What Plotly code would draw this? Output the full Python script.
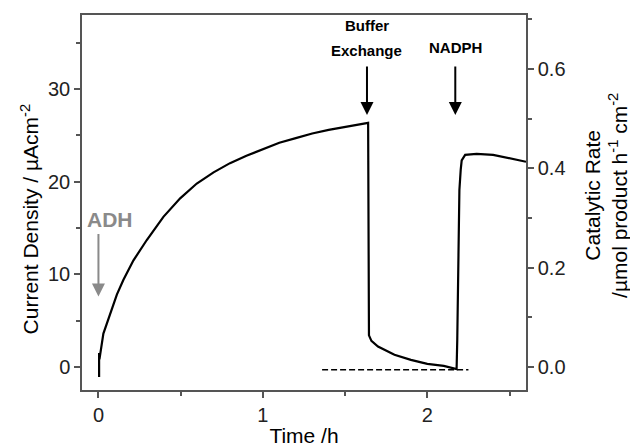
import plotly.graph_objects as go

# Current density trace (time in h, current in µA cm^-2)
time_h = [0.004, 0.004, 0.006, 0.03, 0.071, 0.112, 0.152, 0.213, 0.294, 0.395, 0.497, 0.598,
          0.7, 0.8, 0.9, 1.0, 1.1, 1.2, 1.3, 1.4, 1.5, 1.6, 1.64,
          1.645, 1.66, 1.7, 1.8, 1.9, 2.0, 2.1, 2.17, 2.178,
          2.182, 2.188, 2.195, 2.203, 2.209, 2.23, 2.3, 2.4, 2.5, 2.6]
current = [-1.1, 1.5, 0.8, 3.6, 5.8, 7.8, 9.4, 11.5, 13.7, 16.2, 18.2, 19.8,
           21.0, 22.0, 22.8, 23.5, 24.2, 24.7, 25.2, 25.6, 25.9, 26.2, 26.35,
           3.4, 2.8, 2.2, 1.3, 0.75, 0.32, 0.1, -0.15, -0.25,
           2.9, 13.7, 19.1, 21.3, 22.3, 22.9, 23.0, 22.9, 22.5, 22.15]

# Dashed zero baseline
base_t = [1.36, 2.25]
base_y = [-0.3, -0.3]

# Event arrows: x (h), arrow top, arrow tip (left-axis units)
event_t = [1.633, 2.17]
event_top = [32.6, 32.6]
event_tip = [27.2, 27.2]
adh_t, adh_top, adh_tip = 0.0, 14.5, 7.6

fig = go.Figure()
fig.add_trace(go.Scatter(x=time_h, y=current, mode="lines",
                         line=dict(color="black", width=2.2), showlegend=False))
fig.add_trace(go.Scatter(x=base_t, y=base_y, mode="lines",
                         line=dict(color="black", width=1.5, dash="6px,3px"), showlegend=False))
fig.add_trace(go.Scatter(x=[None], y=[None], yaxis="y2", mode="lines", showlegend=False))

font = "Liberation Sans, Arial, sans-serif"
axcol = "#555555"
gray = "#8a8a8a"

anns = []
for t, top, tip in zip(event_t, event_top, event_tip):
    anns.append(dict(x=t, y=tip, ax=t, ay=top, xref="x", yref="y",
                     axref="x", ayref="y", showarrow=True, arrowhead=2, arrowsize=1.3,
                     arrowwidth=2, arrowcolor="black", text=""))
anns.append(dict(x=event_t[0], y=event_top[0], xref="x", yref="y", text="<b>Exchange</b>",
                 showarrow=False, yanchor="bottom", font=dict(size=15, color="black", family=font),
                 yshift=4))
anns.append(dict(x=event_t[0], y=event_top[0], xref="x", yref="y", text="<b>Buffer</b>",
                 showarrow=False, yanchor="bottom", font=dict(size=15, color="black", family=font),
                 yshift=29))
anns.append(dict(x=event_t[1], y=event_top[1], xref="x", yref="y", text="<b>NADPH</b>",
                 showarrow=False, yanchor="bottom", font=dict(size=15, color="black", family=font),
                 yshift=7))
anns.append(dict(x=adh_t, y=adh_tip, ax=adh_t, ay=adh_top, xref="x", yref="y",
                 axref="x", ayref="y", showarrow=True, arrowhead=2, arrowsize=1.3,
                 arrowwidth=2, arrowcolor=gray, text=""))
anns.append(dict(x=0.07, y=adh_top, xref="x", yref="y", text="<b>ADH</b>", showarrow=False,
                 yanchor="bottom", font=dict(size=21, color=gray, family=font)))
# axis titles
anns.append(dict(x=-0.117, y=0.455, xref="paper", yref="paper", showarrow=False, textangle=-90,
                 xanchor="center", yanchor="middle",
                 text="Current Density / µAcm<sup>-2</sup>", font=dict(size=21, color="black", family=font)))
anns.append(dict(x=1.18, y=0.52, xref="paper", yref="paper", showarrow=False, textangle=-90,
                 xanchor="center", yanchor="middle",
                 text="Catalytic Rate<br>/µmol product h<sup>-1</sup> cm<sup>-2</sup>",
                 font=dict(size=21, color="black", family=font)))

# page body has an 8px margin, so the figure is sized to fit the 638x448 window
fig.update_layout(
    width=630, height=440,
    margin=dict(l=74, r=112, t=7, b=58, autoexpand=False),
    plot_bgcolor="white", paper_bgcolor="white",
    font=dict(family=font, size=20, color="#222222"),
    annotations=anns,
    xaxis=dict(range=[-0.1, 2.6], tickvals=[0, 1, 2], ticks="outside", ticklen=6, tickwidth=1.5,
               tickcolor=axcol, showline=True, linecolor=axcol, linewidth=1.5, mirror=True,
               showgrid=False, zeroline=False, automargin=False,
               minor=dict(tickvals=[0.5, 1.5, 2.5], ticks="outside", ticklen=4, tickcolor=axcol),
               title=dict(text="Time /h", font=dict(size=21, color="black"), standoff=4)),
    yaxis=dict(range=[-2.5, 38], tickvals=[0, 10, 20, 30], ticks="outside", ticklen=6, tickwidth=1.5,
               tickcolor=axcol, showline=True, linecolor=axcol, linewidth=1.5, mirror=True,
               showgrid=False, zeroline=False, automargin=False,
               minor=dict(tickvals=[5, 15, 25, 35], ticks="outside", ticklen=4, tickcolor=axcol)),
    yaxis2=dict(range=[-0.0463, 0.709], overlaying="y", side="right", tickvals=[0, 0.2, 0.4, 0.6],
                tickformat=".1f", ticks="outside", ticklen=6, tickwidth=1.5, tickcolor=axcol,
                showline=True, linecolor=axcol, linewidth=1.5, showgrid=False, zeroline=False,
                automargin=False,
                minor=dict(tickvals=[0.1, 0.3, 0.5, 0.7], ticks="outside", ticklen=4, tickcolor=axcol)),
)

fig.write_html("out.html")
